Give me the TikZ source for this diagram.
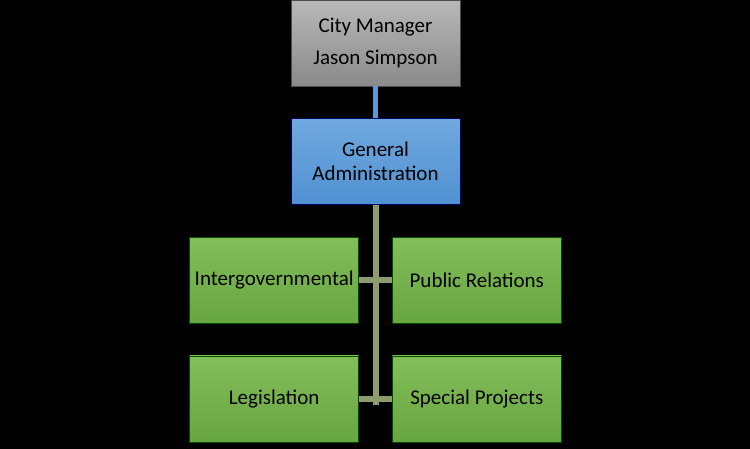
\documentclass[tikz,border=0pt]{standalone}
\usepackage{fontspec}
\setmainfont{Carlito}
\usetikzlibrary{positioning,calc}
\definecolor{grayTop}{RGB}{184,184,184}
\definecolor{grayBot}{RGB}{138,138,138}
\definecolor{blueTop}{RGB}{112,168,222}
\definecolor{blueBot}{RGB}{80,145,210}
\definecolor{greenTop}{RGB}{130,190,90}
\definecolor{greenBot}{RGB}{104,166,66}
\definecolor{trunkCol}{RGB}{140,156,108}
\definecolor{linkBlue}{RGB}{90,155,215}
\tikzset{
  box/.style={rectangle,minimum width=169pt,minimum height=86pt,inner sep=2pt,align=center,
    font=\fontsize{21}{24}\selectfont,text=black},
  mgr/.style={box,top color=grayTop,bottom color=grayBot,draw=gray!60!black,line width=0.6pt,
    font=\fontsize{21}{32}\selectfont},
  admin/.style={box,top color=blueTop,bottom color=blueBot,draw=blue!40!black,line width=0.6pt},
  unit/.style={box,top color=greenTop,bottom color=greenBot,draw=green!30!black,line width=0.6pt},
  bluelink/.style={line width=5pt,linkBlue},
  greenlink/.style={line width=6pt,trunkCol},
}
\begin{document}
\begin{tikzpicture}[x=1pt,y=1pt]
  \fill[black] (0,0) rectangle (750,-449);
  \useasboundingbox (0,0) rectangle (750,-449);
  \node[mgr] (cm) at (375.5,-43) {City Manager\\Jason Simpson};
  \node[admin] (ga) [below=32pt of cm] {General\\Administration};
  \node[unit,anchor=north east] (ig) [below left=32pt and 16.5pt of ga.south] {Intergovernmental};
  \node[unit,anchor=north west] (pr) [below right=32pt and 16.5pt of ga.south] {Public Relations};
  \node[unit] (lg) [below=32pt of ig] {Legislation};
  \node[unit] (sp) [below=32pt of pr] {Special Projects};
  \coordinate (trunkEnd) at ($(ga.south |- lg.east)+(0,-6)$);
  \draw[bluelink] (cm.south) -- (ga.north);
  \draw[greenlink] (ga.south) -- (trunkEnd);
  \draw[greenlink] (ig.east) -- (pr.west);
  \draw[greenlink] (lg.east) -- (sp.west);
\end{tikzpicture}
\end{document}
